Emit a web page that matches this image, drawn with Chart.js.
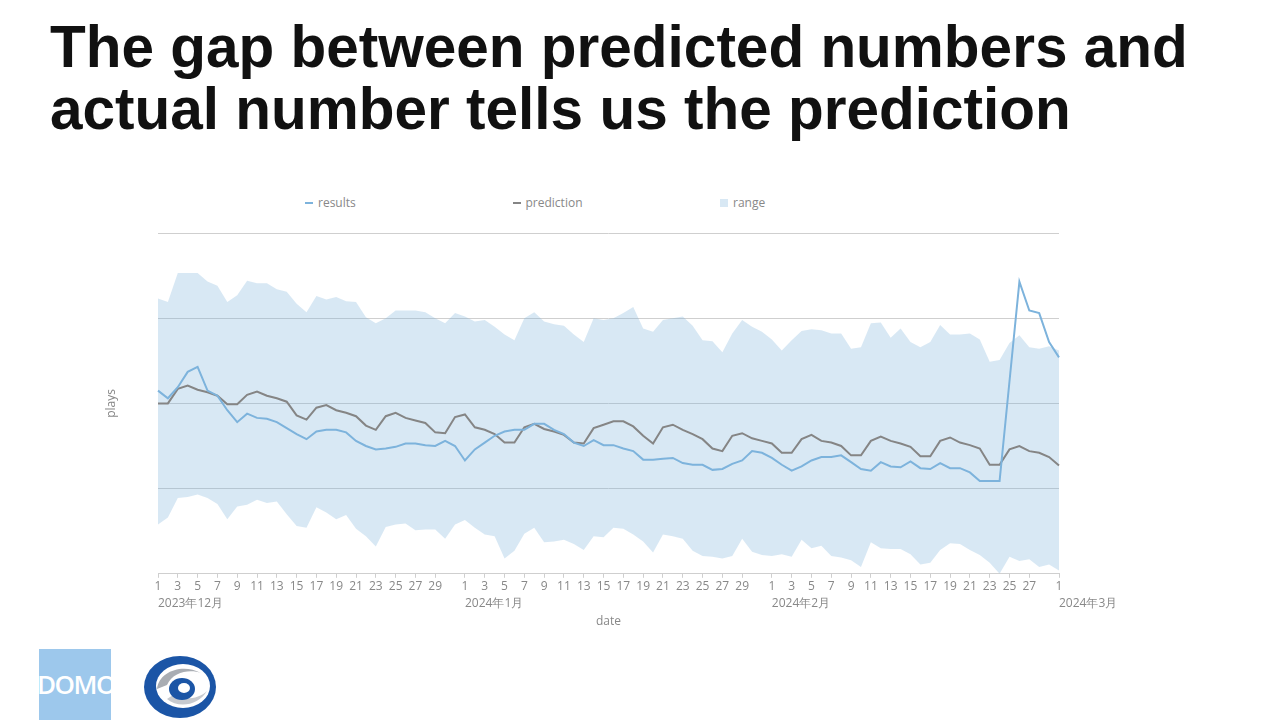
<!DOCTYPE html>
<html>
<head>
<meta charset="utf-8">
<script src="https://cdn.jsdelivr.net/npm/chart.js@4.4.1/dist/chart.umd.min.js"></script>
<style>
  body { margin: 0; width: 1280px; height: 720px; background: #fff; position: relative; overflow: hidden; font-family: 'Open Sans', sans-serif; }
  h1 { position: absolute; left: 50px; top: 16px; margin: 0; font-family: 'Liberation Sans', Arial, sans-serif; font-weight: bold; font-size: 58.5px; line-height: 61.5px; color: #111; white-space: nowrap; }
  #legend { position: absolute; left: 305px; top: 195px; display: flex; }
  .item { width: 207.5px; display: flex; align-items: center; font-size: 12px; line-height: 16px; color: #888; }
  .mark { width: 8px; margin-right: 5px; }
  #chart { position: absolute; left: 0; top: 180px; }
  #domo { position: absolute; left: 39px; top: 649px; width: 72px; height: 71px; background: #9dc8ec; overflow: hidden; color: #fff; font-family: 'Open Sans', sans-serif; font-weight: 600; font-size: 26px; line-height: 71px; letter-spacing: -1.5px; text-indent: -2px; white-space: nowrap; }
  #logo2 { position: absolute; left: 143px; top: 655px; }
</style>
</head>
<body>
<h1>The gap between predicted numbers and<br>actual number tells us the prediction</h1>
<div id="legend"></div>
<canvas id="chart" width="1280" height="449"></canvas>
<div id="domo">DOMO</div>
<svg id="logo2" width="76" height="64" viewBox="0 0 76 64">
  <ellipse cx="37" cy="32" rx="36" ry="31" fill="#1b55a6"/>
  <ellipse cx="40" cy="31" rx="27" ry="22" fill="#fff"/>
  <path d="M14 34 C16 16 40 8 58 18 C48 14 30 16 24 30 Z" fill="#a9adb3"/>
  <path d="M24 44 C36 54 56 50 64 36 C56 44 40 46 30 40 Z" fill="#c7cacf"/>
  <ellipse cx="39" cy="34" rx="13" ry="11" fill="#1b55a6"/>
  <ellipse cx="41" cy="33" rx="6" ry="5" fill="#fff"/>
</svg>
<script>
// months shown on the x axis and how many days of each are in the data
const months = ['2023年12月', '2024年1月', '2024年2月', '2024年3月']
const monthDays = [31, 31, 29, 1]

// one value a day (axis units: 0..4 = bottom..top gridline)
const results = [
  2.15, 2.06, 2.19, 2.37, 2.43, 2.15, 2.09, 1.92, 1.78, 1.88,
  1.83, 1.82, 1.78, 1.71, 1.64, 1.58, 1.67, 1.69, 1.69, 1.66,
  1.56, 1.50, 1.46, 1.47, 1.49, 1.53, 1.53, 1.51, 1.50, 1.56,
  1.50, 1.33, 1.46, 1.54, 1.62, 1.67, 1.69, 1.69, 1.76, 1.76,
  1.69, 1.64, 1.54, 1.50, 1.57, 1.51, 1.51, 1.47, 1.44, 1.34,
  1.34, 1.35, 1.36, 1.30, 1.28, 1.28, 1.22, 1.23, 1.29, 1.33,
  1.44, 1.42, 1.36, 1.28, 1.21, 1.26, 1.33, 1.37, 1.37, 1.39,
  1.31, 1.23, 1.21, 1.31, 1.26, 1.25, 1.32, 1.24, 1.23, 1.30,
  1.24, 1.24, 1.19, 1.09, 1.09, 1.09, 2.26, 3.43, 3.09, 3.06,
  2.72, 2.54
]
const prediction = [
  2.00, 2.00, 2.17, 2.21, 2.16, 2.13, 2.09, 1.99, 1.99, 2.10,
  2.14, 2.09, 2.06, 2.02, 1.86, 1.81, 1.95, 1.98, 1.92, 1.89,
  1.85, 1.74, 1.69, 1.85, 1.89, 1.83, 1.80, 1.77, 1.66, 1.65,
  1.84, 1.87, 1.72, 1.69, 1.64, 1.54, 1.54, 1.72, 1.76, 1.70,
  1.67, 1.63, 1.54, 1.53, 1.71, 1.75, 1.79, 1.79, 1.73, 1.62,
  1.53, 1.72, 1.75, 1.69, 1.64, 1.58, 1.47, 1.44, 1.62, 1.65,
  1.59, 1.56, 1.53, 1.42, 1.42, 1.58, 1.63, 1.56, 1.54, 1.50,
  1.39, 1.39, 1.56, 1.61, 1.56, 1.53, 1.49, 1.38, 1.38, 1.56,
  1.60, 1.54, 1.51, 1.47, 1.28, 1.28, 1.46, 1.50, 1.44, 1.42,
  1.37, 1.27
]
const rangeHigh = [
  3.23, 3.19, 3.53, 3.53, 3.53, 3.43, 3.38, 3.19, 3.27, 3.44,
  3.41, 3.41, 3.34, 3.31, 3.17, 3.07, 3.26, 3.22, 3.25, 3.20,
  3.19, 3.01, 2.94, 3.00, 3.09, 3.09, 3.09, 3.07, 3.00, 2.94,
  3.06, 3.02, 2.96, 2.98, 2.90, 2.81, 2.74, 3.00, 3.07, 2.96,
  2.93, 2.91, 2.81, 2.72, 3.00, 2.98, 3.00, 3.06, 3.13, 2.88,
  2.84, 2.98, 3.00, 3.02, 2.91, 2.74, 2.73, 2.60, 2.82, 2.98,
  2.90, 2.84, 2.75, 2.62, 2.74, 2.85, 2.87, 2.86, 2.82, 2.82,
  2.64, 2.66, 2.94, 2.95, 2.77, 2.88, 2.72, 2.66, 2.72, 2.92,
  2.81, 2.81, 2.82, 2.75, 2.49, 2.51, 2.71, 2.80, 2.66, 2.64,
  2.67, 2.62
]
const rangeLow = [
  0.58, 0.66, 0.89, 0.90, 0.93, 0.89, 0.82, 0.64, 0.79, 0.81,
  0.87, 0.83, 0.85, 0.70, 0.56, 0.54, 0.78, 0.72, 0.64, 0.69,
  0.53, 0.44, 0.32, 0.55, 0.58, 0.59, 0.51, 0.52, 0.52, 0.41,
  0.58, 0.63, 0.54, 0.46, 0.44, 0.18, 0.27, 0.47, 0.54, 0.37,
  0.38, 0.40, 0.35, 0.28, 0.44, 0.43, 0.54, 0.53, 0.46, 0.38,
  0.25, 0.46, 0.44, 0.41, 0.27, 0.21, 0.20, 0.18, 0.21, 0.41,
  0.26, 0.22, 0.21, 0.23, 0.20, 0.40, 0.30, 0.33, 0.21, 0.19,
  0.16, 0.08, 0.37, 0.30, 0.29, 0.29, 0.23, 0.11, 0.13, 0.28,
  0.36, 0.35, 0.28, 0.22, 0.13, 0.00, 0.20, 0.15, 0.17, 0.08,
  0.11, 0.04
]

const BLUE = '#7db3dc'
const GRAY = '#858585'
const BAND = 'rgba(125, 179, 220, 0.3)'
const LINE = '#cfcfcf'
const TEXT = '#888'

// one category per day, with odd day numbers (not the month's last day) and month names as ticks
const labels = []
const dayTicks = []
const monthTicks = []
months.forEach((m, mi) => {
  for (let d = 1; d <= monthDays[mi]; d++) {
    labels.push(m + d + '日')
    const last = d === monthDays[mi] && mi < months.length - 1
    dayTicks.push(d % 2 === 1 && !last ? String(d) : '')
    monthTicks.push(d === 1 ? m : '')
  }
})

Chart.defaults.font.family = "'Open Sans', sans-serif"
Chart.defaults.font.size = 12
Chart.defaults.color = TEXT

const chart = new Chart(document.getElementById('chart'), {
  type: 'line',
  data: {
    labels: labels,
    datasets: [
      { label: 'results', data: results, borderColor: BLUE, backgroundColor: BLUE, borderWidth: 2, pointRadius: 0, fill: false, legendMark: 'line' },
      { label: 'prediction', data: prediction, borderColor: GRAY, backgroundColor: GRAY, borderWidth: 2, pointRadius: 0, fill: false, legendMark: 'line' },
      { label: 'range', data: rangeHigh, borderColor: 'rgba(0,0,0,0)', backgroundColor: BAND, borderWidth: 0, pointRadius: 0, fill: '+1', legendMark: 'box' },
      { label: 'range low', data: rangeLow, borderColor: 'rgba(0,0,0,0)', borderWidth: 0, pointRadius: 0, fill: false }
    ]
  },
  options: {
    responsive: false,
    animation: false,
    layout: { padding: { left: 8, right: 221, top: 53, bottom: 0 } },
    plugins: { legend: { display: false }, tooltip: { enabled: false } },
    scales: {
      x: {
        type: 'category', position: 'bottom', offset: false, weight: 0,
        grid: { drawOnChartArea: false, drawTicks: true, tickLength: 4, tickColor: c => dayTicks[c.index] ? LINE : 'rgba(0,0,0,0)' },
        border: { color: LINE },
        ticks: { autoSkip: false, maxRotation: 0, padding: 2, color: TEXT, callback: (v, i) => dayTicks[i] }
      },
      x2: {
        type: 'category', position: 'bottom', offset: false, weight: 1,
        grid: { display: false, drawTicks: false }, border: { display: false },
        ticks: { autoSkip: false, maxRotation: 0, padding: 0, align: 'start', color: TEXT, callback: (v, i) => monthTicks[i] },
        title: { display: true, text: 'date', color: TEXT, padding: { top: 4, bottom: 0 } }
      },
      y: {
        min: 0, max: 4,
        ticks: { display: false, stepSize: 1 },
        grid: { color: LINE, drawTicks: false },
        border: { display: false },
        title: { display: true, text: 'plays', color: TEXT, padding: { top: 96, bottom: 0 } },
        afterFit: s => { s.width = 150 }
      }
    }
  }
})

// legend laid out in wide fixed slots like the original dashboard
const legend = document.getElementById('legend')
chart.data.datasets.filter(ds => ds.legendMark).forEach(ds => {
  const item = document.createElement('div')
  item.className = 'item'
  const mark = document.createElement('span')
  mark.className = 'mark'
  mark.style.height = ds.legendMark === 'line' ? '2px' : '8px'
  mark.style.background = ds.backgroundColor
  item.appendChild(mark)
  item.appendChild(document.createTextNode(ds.label))
  legend.appendChild(item)
})
</script>
</body>
</html>
